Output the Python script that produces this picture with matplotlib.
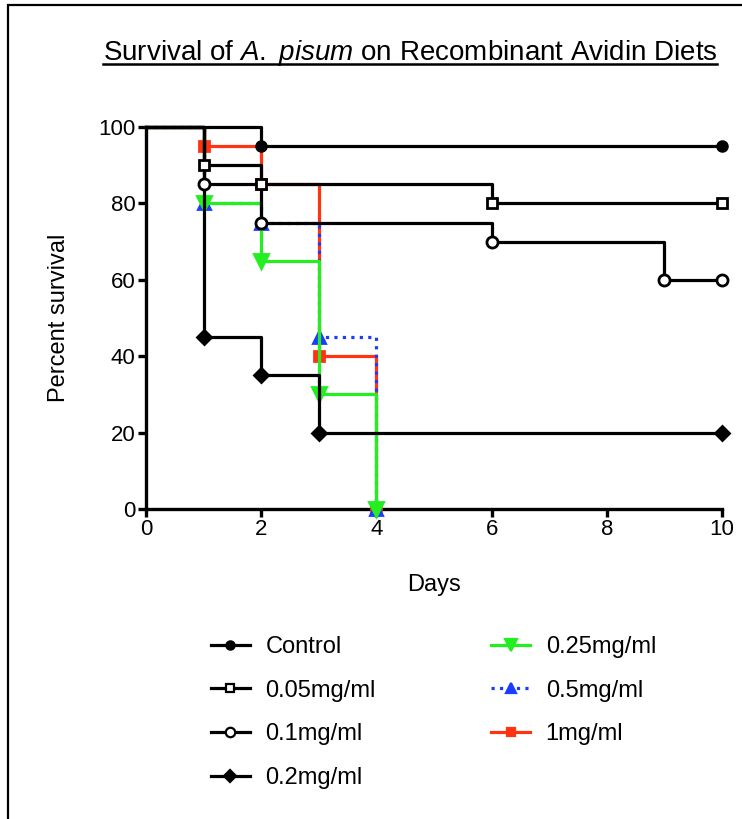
import matplotlib
matplotlib.use("Agg")
import matplotlib.pyplot as plt
from matplotlib.lines import Line2D
from matplotlib.patches import Rectangle

plt.rcParams['font.family'] = ['Liberation Sans', 'DejaVu Sans']
plt.rcParams['mathtext.fontset'] = 'custom'
plt.rcParams['mathtext.it'] = 'Liberation Sans:italic'
plt.rcParams['mathtext.rm'] = 'Liberation Sans'

labels = ["Control", "0.05mg/ml", "0.1mg/ml", "0.2mg/ml", "0.25mg/ml", "0.5mg/ml", "1mg/ml"]
days_control = [0, 2, 10]
surv_control = [100, 95, 95]
days_005 = [0, 1, 2, 6, 10]
surv_005 = [100, 90, 85, 80, 80]
days_01 = [0, 1, 2, 6, 9, 10]
surv_01 = [100, 85, 75, 70, 60, 60]
days_02 = [0, 1, 2, 3, 10]
surv_02 = [100, 45, 35, 20, 20]
days_025 = [0, 1, 2, 3, 4]
surv_025 = [100, 80, 65, 30, 0]
days_05 = [0, 1, 2, 3, 4]
surv_05 = [100, 80, 75, 45, 0]
days_1 = [0, 1, 2, 3, 4]
surv_1 = [100, 95, 85, 40, 0]

x_ticks = [0, 2, 4, 6, 8, 10]
y_ticks = [0, 20, 40, 60, 80, 100]

BLACK = 'black'
GREEN = '#22EE22'
BLUE = '#1A3CFF'
RED = '#FF3311'

# (days, surv, color, linestyle, marker, markersize, facecolor, zorder)
series = [
    (days_1, surv_1, RED, '-', 's', 7, RED, 3),
    (days_05, surv_05, BLUE, ':', '^', 9, BLUE, 4),
    (days_025, surv_025, GREEN, '-', 'v', 10, GREEN, 5),
    (days_control, surv_control, BLACK, '-', 'o', 7, BLACK, 6),
    (days_005, surv_005, BLACK, '-', 's', 7, 'white', 6),
    (days_01, surv_01, BLACK, '-', 'o', 8, 'white', 6),
    (days_02, surv_02, BLACK, '-', 'D', 7, BLACK, 6),
]
order_labels = [labels[6], labels[5], labels[4], labels[0], labels[1], labels[2], labels[3]]

fig = plt.figure(figsize=(7.42, 8.19), dpi=100)
ax = fig.add_axes([146/742, 1-509/819, (722-146)/742, (509-127)/819])

handles = {}
for (d, s, c, ls, m, ms, fc, z), lab in zip(series, order_labels):
    ax.step(d, s, where='post', color=c, linestyle=ls, lw=2.3, zorder=z, clip_on=False)
    ax.plot(d[1:], s[1:], linestyle='none', marker=m, markersize=ms, markerfacecolor=fc,
            markeredgecolor=c, markeredgewidth=2.0, zorder=z + 0.5, clip_on=False)
    handles[lab] = Line2D([], [], color=c, linestyle=ls, lw=2.3, marker=m,
                          markersize=ms * 0.85, markerfacecolor=fc, markeredgecolor=c,
                          markeredgewidth=1.6)

ax.set_xlim(0, 10)
ax.set_ylim(0, 100)
ax.set_xticks(x_ticks)
ax.set_yticks(y_ticks)
for sp in ['top', 'right']:
    ax.spines[sp].set_visible(False)
for sp in ['left', 'bottom']:
    ax.spines[sp].set_linewidth(2.4)
ax.tick_params(axis='both', width=2.4, length=6, labelsize=16, pad=1.5)
ax.set_xlabel("Days", fontsize=17, labelpad=24)
ax.set_ylabel("Percent survival", fontsize=17, labelpad=20.5)

fig.text(410/742, 1-53/819, r"Survival of $\it{A.\ pisum}$ on Recombinant Avidin Diets",
         ha='center', va='center', fontsize=20)
# underline
fig.canvas.draw()
t = fig.texts[0]
bb = t.get_window_extent(renderer=fig.canvas.get_renderer())
yline = (bb.y0 + 4) / 819
fig.add_artist(Line2D([bb.x0 / 742, bb.x1 / 742], [yline, yline], color='black', lw=1.8,
                      transform=fig.transFigure, zorder=0))

leg = fig.legend([handles[l] for l in labels], labels, ncol=2, frameon=False,
                 loc='upper left', bbox_to_anchor=(211/742, 1-636/819),
                 fontsize=17, handlelength=1.65, handletextpad=0.65,
                 columnspacing=4.9, labelspacing=0.92, borderaxespad=0, borderpad=0)

# outer frame (cropped on right and bottom)
fig.add_artist(Rectangle((8/742, -0.05), 1.2, 1 - 5/819 + 0.05, transform=fig.transFigure,
                         fill=False, edgecolor='black', lw=1.6, clip_on=False))

fig.savefig("out.png", dpi=100)
